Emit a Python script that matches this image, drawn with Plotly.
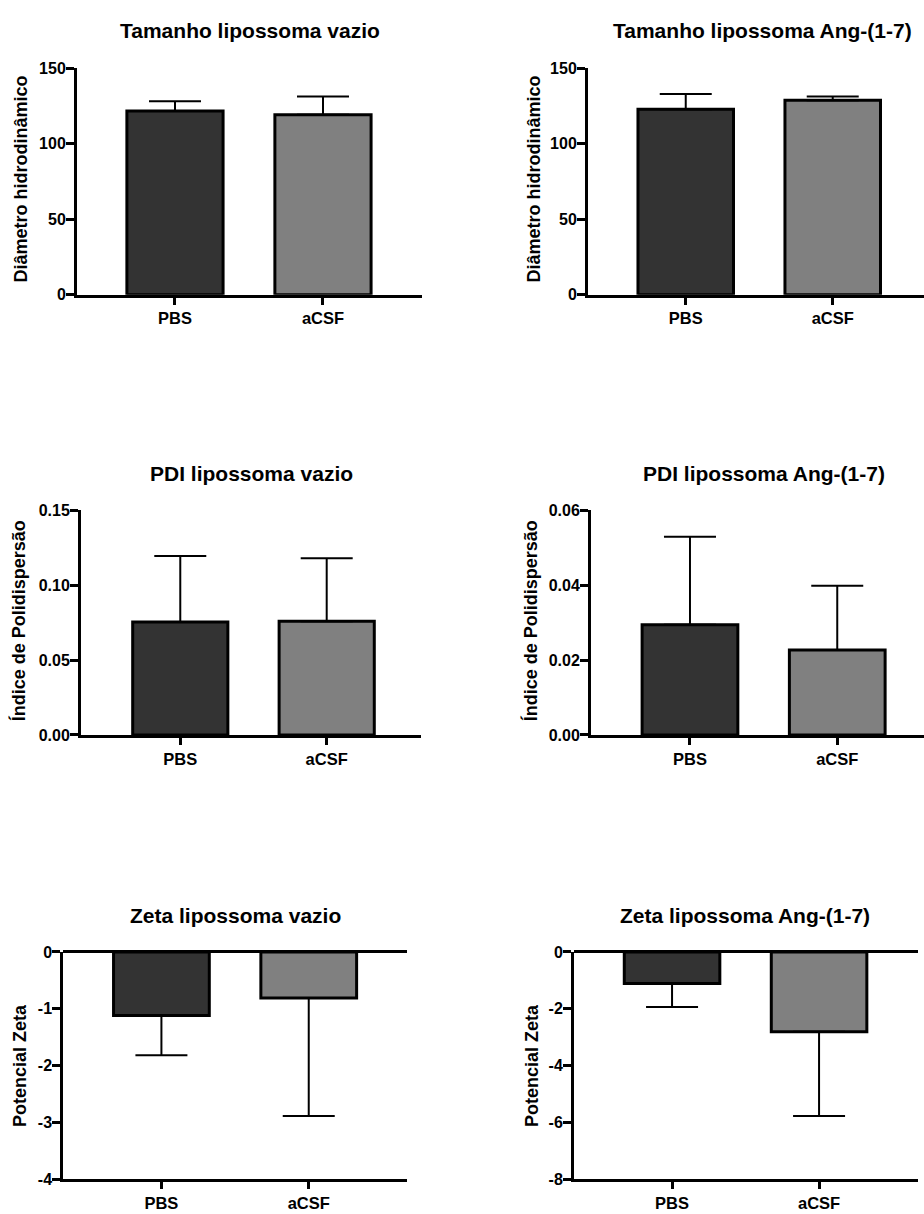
import plotly.graph_objects as go

W, H = 924, 1214

categories = ["PBS", "aCSF"]

size_empty_mean = [121.7, 119.1]
size_empty_err = [6.3, 12.2]
size_ang_mean = [122.8, 128.7]
size_ang_err = [10.0, 2.6]

pdi_empty_mean = [0.0754, 0.0759]
pdi_empty_err = [0.0441, 0.0421]
pdi_ang_mean = [0.0294, 0.0227]
pdi_ang_err = [0.0235, 0.0171]

zeta_empty_mean = [-1.12, -0.81]
zeta_empty_err = [0.70, 2.08]
zeta_ang_mean = [-1.11, -2.81]
zeta_ang_err = [0.83, 2.97]

size_ticks = [0, 50, 100, 150]
size_ticktext = ["0", "50", "100", "150"]
pdi_empty_ticks = [0, 0.05, 0.10, 0.15]
pdi_empty_ticktext = ["0.00", "0.05", "0.10", "0.15"]
pdi_ang_ticks = [0, 0.02, 0.04, 0.06]
pdi_ang_ticktext = ["0.00", "0.02", "0.04", "0.06"]
zeta_empty_ticks = [0, -1, -2, -3, -4]
zeta_empty_ticktext = ["0", "-1", "-2", "-3", "-4"]
zeta_ang_ticks = [0, -2, -4, -6, -8]
zeta_ang_ticktext = ["0", "-2", "-4", "-6", "-8"]

titles = ["Tamanho lipossoma vazio", "Tamanho lipossoma Ang-(1-7)",
          "PDI lipossoma vazio", "PDI lipossoma Ang-(1-7)",
          "Zeta lipossoma vazio", "Zeta lipossoma Ang-(1-7)"]
ytitles = ["Diâmetro hidrodinâmico", "Diâmetro hidrodinâmico",
           "Índice de Polidispersão", "Índice de Polidispersão",
           "Potencial Zeta", "Potencial Zeta"]

bar_colors = ["#333333", "#808080"]
FONT = "Liberation Sans, Arial, sans-serif"

panels = [
    dict(mean=size_empty_mean, err=size_empty_err, xd=(77, 421.7), yd=(61, 290.7),
         xr=(-0.662, 1.667), yr=(0, 150), tv=size_ticks, tt=size_ticktext, neg=False,
         title_xy=(250, 23), ytitle_xy=(21, 174)),
    dict(mean=size_ang_mean, err=size_ang_err, xd=(588, 924), yd=(61, 290.7),
         xr=(-0.665, 1.621), yr=(0, 150), tv=size_ticks, tt=size_ticktext, neg=False,
         title_xy=(762, 23), ytitle_xy=(534, 174)),
    dict(mean=pdi_empty_mean, err=pdi_empty_err, xd=(81, 421), yd=(509.3, 737.3),
         xr=(-0.678, 1.644), yr=(0, 0.15), tv=pdi_empty_ticks, tt=pdi_empty_ticktext, neg=False,
         title_xy=(252, 472), ytitle_xy=(18, 622)),
    dict(mean=pdi_ang_mean, err=pdi_ang_err, xd=(591, 924), yd=(509.3, 737.3),
         xr=(-0.672, 1.589), yr=(0, 0.06), tv=pdi_ang_ticks, tt=pdi_ang_ticktext, neg=False,
         title_xy=(764, 472), ytitle_xy=(530, 622)),
    dict(mean=zeta_empty_mean, err=zeta_empty_err, xd=(63.3, 407), yd=(957.3, 1187.7),
         xr=(-0.666, 1.667), yr=(-4, 0), tv=zeta_empty_ticks, tt=zeta_empty_ticktext, neg=True,
         title_xy=(235, 920), ytitle_xy=(20, 1073)),
    dict(mean=zeta_ang_mean, err=zeta_ang_err, xd=(574, 918), yd=(957.3, 1187.7),
         xr=(-0.667, 1.673), yr=(-8, 0), tv=zeta_ang_ticks, tt=zeta_ang_ticktext, neg=True,
         title_xy=(745, 920), ytitle_xy=(532, 1073)),
]

fig = go.Figure()
annotations = []
for i, p in enumerate(panels):
    n = "" if i == 0 else str(i + 1)
    xa, ya = "x" + n, "y" + n
    zeros = [0, 0]
    if p["neg"]:
        err_kw = dict(type="data", symmetric=False, array=zeros, arrayminus=p["err"])
    else:
        err_kw = dict(type="data", symmetric=False, array=p["err"], arrayminus=zeros)
    fig.add_trace(go.Bar(
        x=categories, y=p["mean"], xaxis=xa, yaxis=ya, width=0.65,
        marker=dict(color=bar_colors, line=dict(color="black", width=3)),
        error_y=dict(color="black", thickness=2, width=26, **err_kw),
        showlegend=False, hoverinfo="skip",
    ))
    xk = "xaxis" + n
    yk = "yaxis" + n
    fig.layout[xk] = dict(
        domain=[p["xd"][0] / W, min(p["xd"][1] / W, 1.0)],
        anchor=ya, type="category", range=list(p["xr"]),
        showline=True, linecolor="black", linewidth=3,
        ticks="outside", ticklen=7, tickwidth=3, tickcolor="black",
        tickfont=dict(family=FONT, size=16.5, color="black", weight="bold"),
        showgrid=False, zeroline=False, fixedrange=True,
    )
    fig.layout[yk] = dict(
        domain=[1 - p["yd"][1] / H, 1 - p["yd"][0] / H],
        anchor=xa, range=list(p["yr"]),
        tickmode="array", tickvals=p["tv"], ticktext=p["tt"],
        showline=True, linecolor="black", linewidth=3,
        ticks="outside", ticklen=8, tickwidth=3, tickcolor="black",
        tickfont=dict(family=FONT, size=16, color="black", weight="bold"),
        ticklabelstandoff=-3,
        showgrid=False, zeroline=p["neg"], zerolinecolor="black", zerolinewidth=3,
        fixedrange=True,
    )
    tx, ty = p["title_xy"]
    annotations.append(dict(
        text=titles[i], x=tx / W, y=1 - ty / H, xref="paper", yref="paper",
        xanchor="center", yanchor="middle", showarrow=False,
        font=dict(family=FONT, size=21, color="black", weight="bold")))
    ax_, ay_ = p["ytitle_xy"]
    annotations.append(dict(
        text=ytitles[i], x=ax_ / W, y=1 - ay_ / H, xref="paper", yref="paper",
        xanchor="center", yanchor="middle", showarrow=False, textangle=-90,
        font=dict(family=FONT, size=18, color="black", weight="bold")))

fig.update_layout(
    width=W, height=H, margin=dict(l=0, r=0, t=0, b=0),
    paper_bgcolor="white", plot_bgcolor="white",
    annotations=annotations, bargap=0.3,
)

fig.write_html("out.html", config=dict(displayModeBar=False))
